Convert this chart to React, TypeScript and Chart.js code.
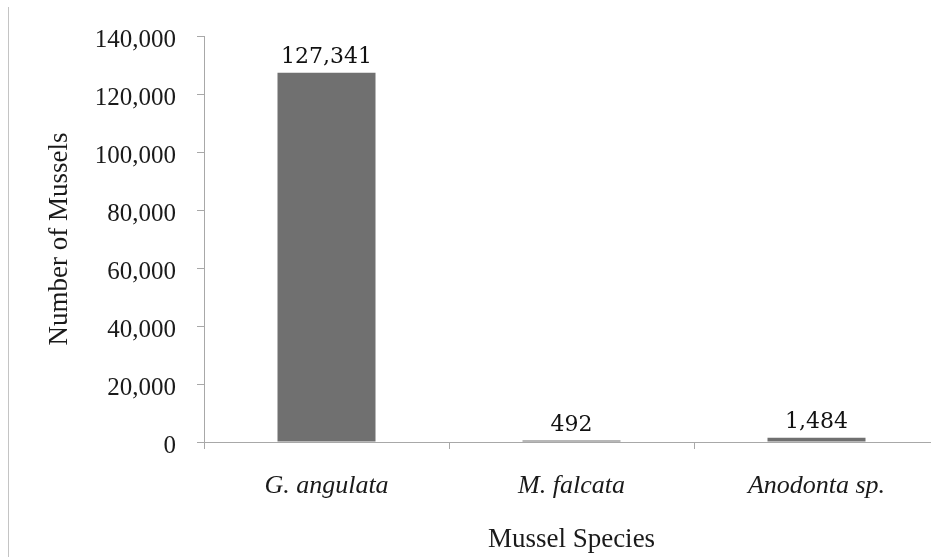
import React, { useEffect, useRef } from "react";
import { Chart, registerables } from "chart.js";

Chart.register(...registerables);

const categories = ["G. angulata", "M. falcata", "Anodonta sp."];
const musselCounts = [127341, 492, 1484];
const yMax = 140000;
const yStep = 20000;

const CANVAS_W = 950;
const CANVAS_H = 557;

const valueLabels = {
  id: "valueLabels",
  afterDatasetsDraw(chart: any) {
    const ctx = chart.ctx;
    const meta = chart.getDatasetMeta(0);
    const data = chart.data.datasets[0].data as number[];
    ctx.save();
    ctx.font = "22px 'DejaVu Serif'";
    ctx.fillStyle = "#111111";
    ctx.textAlign = "center";
    ctx.textBaseline = "alphabetic";
    meta.data.forEach((bar: any, i: number) => {
      ctx.fillText(data[i].toLocaleString("en-US"), bar.x, bar.y - 10);
    });
    ctx.restore();
  },
};

export default function App() {
  const canvasRef = useRef<HTMLCanvasElement | null>(null);

  useEffect(() => {
    if (!canvasRef.current) return;
    const chart = new Chart(canvasRef.current, {
      type: "bar",
      data: {
        labels: categories,
        datasets: [
          {
            data: musselCounts,
            backgroundColor: "#707070",
            borderWidth: 0,
            categoryPercentage: 0.8,
            barPercentage: 0.5,
          },
        ],
      },
      plugins: [valueLabels],
      options: {
        responsive: false,
        animation: false,
        devicePixelRatio: 1,
        layout: { padding: { top: 36, right: 11, left: 0, bottom: 0 } },
        plugins: {
          legend: { display: false },
          tooltip: { enabled: false },
        },
        scales: {
          x: {
            offset: true,
            afterFit: (scale: any) => {
              scale.height = 115;
            },
            grid: {
              offset: true,
              drawOnChartArea: false,
              drawTicks: true,
              tickLength: 7,
              color: "#a8a8a8",
              lineWidth: 1,
            },
            border: { display: true, color: "#a8a8a8", width: 1 },
            ticks: {
              padding: 22,
              color: "#1a1a1a",
              font: { family: "'Liberation Serif'", size: 26, style: "italic" },
              maxRotation: 0,
            },
            title: {
              display: true,
              text: "Mussel Species",
              color: "#1a1a1a",
              font: { family: "'Liberation Serif'", size: 27 },
              padding: { top: 0, bottom: 1 },
            },
          },
          y: {
            min: 0,
            max: yMax,
            afterFit: (scale: any) => {
              scale.width = 204;
            },
            grid: {
              drawOnChartArea: false,
              drawTicks: true,
              tickLength: 7,
              color: "#a8a8a8",
              lineWidth: 1,
            },
            border: { display: true, color: "#a8a8a8", width: 1 },
            ticks: {
              stepSize: yStep,
              padding: 21,
              labelOffset: 4,
              color: "#1a1a1a",
              font: { family: "'Liberation Serif'", size: 25 },
              callback: (v: any) => Number(v).toLocaleString("en-US"),
            },
            title: {
              display: true,
              text: "Number of Mussels",
              color: "#1a1a1a",
              font: { family: "'Liberation Serif'", size: 27 },
              padding: { top: 44, bottom: 0 },
            },
          },
        },
      },
    });
    return () => chart.destroy();
  }, []);

  return (
    <div
      style={{
        position: "fixed",
        left: 0,
        top: 0,
        width: 931,
        height: 557,
        overflow: "hidden",
        background: "#ffffff",
      }}
    >
      <canvas
        ref={canvasRef}
        width={CANVAS_W}
        height={CANVAS_H}
        style={{ position: "absolute", left: 0, top: 0, width: CANVAS_W, height: CANVAS_H }}
      />
      <div
        style={{
          position: "absolute",
          left: 8,
          top: 7,
          width: 1,
          bottom: 0,
          background: "#c4c4c4",
        }}
      />
    </div>
  );
}
